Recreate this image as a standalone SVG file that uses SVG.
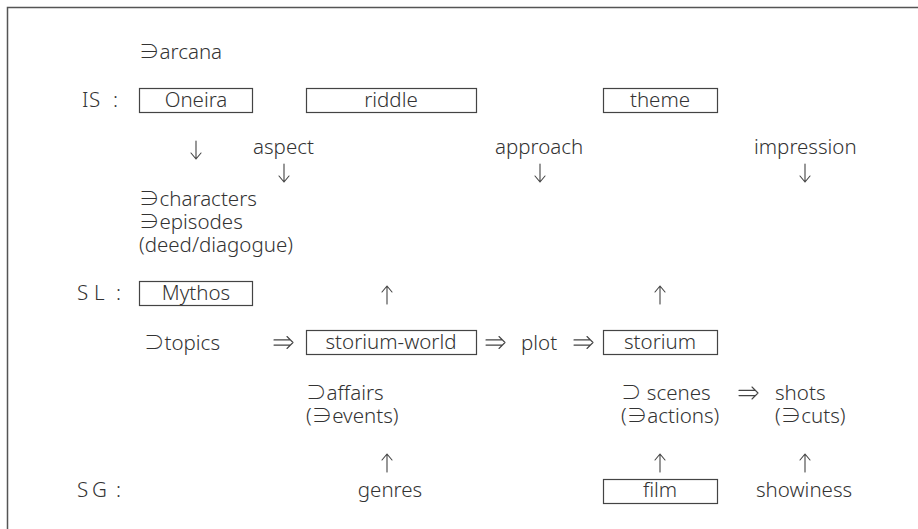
<svg xmlns="http://www.w3.org/2000/svg" width="918" height="529" viewBox="0 0 918 529">
<style>
text{font-family:"Noto Sans","Noto Sans CJK JP",sans-serif;font-size:20.5px;font-weight:300;fill:#333}
.m{text-anchor:middle}
.box{fill:#fff;stroke:#444;stroke-width:1.2}
.frame{fill:none;stroke:#555;stroke-width:1.5}
.c{fill:none;stroke:#444;stroke-width:1.1;stroke-linecap:round;stroke-linejoin:round}
</style>
<defs>
<path id="dn" class="c" d="M0,0 V18 M-5,12 L0,18 L5,12"/>
<path id="up" class="c" d="M0,0 V-18 M-5,-12 L0,-18 L5,-12"/>
<path id="dbl" class="c" d="M0,-2.6 H16 M0,2.6 H16 M13,-6 L19,0 L13,6"/>
</defs>
<rect class="frame" x="7.5" y="7.5" width="930" height="540"/>
<g id="labels">
<text x="82 89 113" y="107">IS:</text>
<text x="77 94 116" y="300">SL:</text>
<text x="77 92 116" y="497">SG:</text>
</g>
<g id="arcana"><text x="139" y="59">∋arcana</text></g>
<g id="oneira"><rect class="box" x="139.5" y="88.5" width="113" height="24"/><text class="m" x="196" y="107">Oneira</text></g>
<g id="riddle"><rect class="box" x="306.5" y="88.5" width="170" height="24"/><text class="m" x="391" y="107">riddle</text></g>
<g id="theme"><rect class="box" x="603.5" y="88.5" width="114" height="24"/><text class="m" x="660" y="107">theme</text></g>
<g id="aspect"><text x="253" y="154">aspect</text></g>
<g id="approach"><text x="495" y="154">approach</text></g>
<g id="impression"><text x="754" y="154">impression</text></g>
<g id="characters"><text x="139" y="206">∋characters</text><text x="139" y="229">∋episodes</text><text x="139" y="252">(deed/diagogue)</text></g>
<g id="mythos"><rect class="box" x="139.5" y="281.5" width="113" height="24"/><text class="m" x="196" y="300">Mythos</text></g>
<g id="topics"><text x="144" y="350">⊃topics</text></g>
<g id="storium-world"><rect class="box" x="306.5" y="330.5" width="170" height="24"/><text class="m" x="391" y="349">storium-world</text></g>
<g id="plot"><text x="521" y="350">plot</text></g>
<g id="storium"><rect class="box" x="603.5" y="330.5" width="114" height="24"/><text class="m" x="660" y="349">storium</text></g>
<g id="affairs"><text x="306" y="400">⊃affairs</text><text x="306" y="423">(∋events)</text></g>
<g id="scenes"><text x="621" y="400">⊃ scenes</text><text x="621" y="423">(∋actions)</text></g>
<g id="shots"><text x="775" y="400">shots</text><text x="775" y="423">(∋cuts)</text></g>
<g id="genres"><text class="m" x="390" y="497">genres</text></g>
<g id="film"><rect class="box" x="603.5" y="479.5" width="114" height="24"/><text class="m" x="660" y="497">film</text></g>
<g id="showiness"><text x="756" y="497">showiness</text></g>
<g id="connectors">
<use href="#dn" x="196" y="141"/>
<use href="#dn" x="284" y="164"/>
<use href="#dn" x="540" y="164"/>
<use href="#dn" x="805" y="164"/>
<use href="#up" x="387" y="304"/>
<use href="#up" x="660" y="304"/>
<use href="#dbl" x="274" y="342.5"/>
<use href="#dbl" x="486" y="342.5"/>
<use href="#dbl" x="574" y="342.5"/>
<use href="#dbl" x="739" y="393"/>
<use href="#up" x="387" y="472"/>
<use href="#up" x="660" y="472"/>
<use href="#up" x="805" y="472"/>
</g>
</svg>
